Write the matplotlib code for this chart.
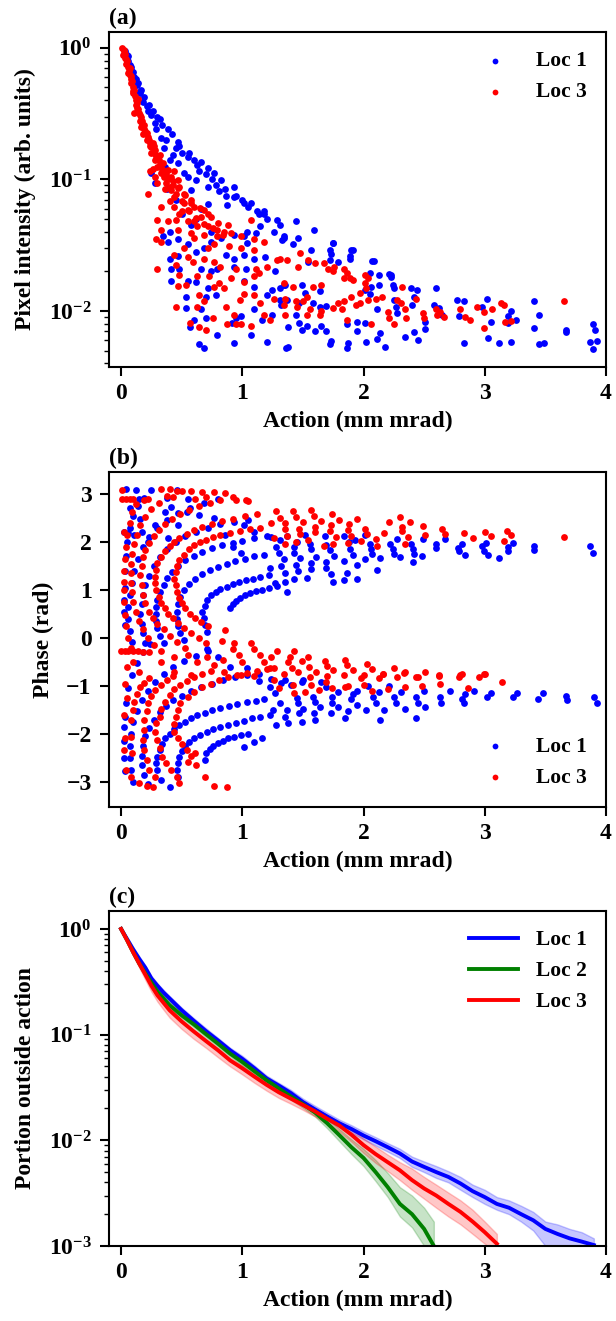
import matplotlib
matplotlib.use('Agg')
import matplotlib.pyplot as plt

plt.rcParams['font.family'] = ['Liberation Serif', 'DejaVu Serif']
plt.rcParams['font.weight'] = 'bold'
plt.rcParams['axes.labelweight'] = 'bold'
plt.rcParams['mathtext.fontset'] = 'custom'
plt.rcParams['mathtext.rm'] = 'Liberation Serif:bold'
plt.rcParams['mathtext.it'] = 'Liberation Serif:italic:bold'
plt.rcParams['mathtext.bf'] = 'Liberation Serif:bold'

# ---------------- Panel (a): pixel intensity vs action ----------------
a_loc1 = [
    (0.03,0.94),(0.057,0.86),(0.071,0.74),(0.085,0.68),(0.11,0.60),(0.14,0.54),(0.153,0.45),(0.167,0.48),
    (0.18,0.39),(0.21,0.36),(0.22,0.33),(0.25,0.31),(0.317,0.29),(0.276,0.27),(0.29,0.24),(0.385,0.24),
    (0.33,0.206),(0.37,0.20),(0.467,0.194),(0.358,0.173),(0.454,0.173),(0.426,0.153),(0.55,0.149),
    (0.63,0.129),(0.467,0.133),(0.713,0.122),(0.768,0.111),(0.645,0.115),(0.52,0.111),(0.55,0.105),
    (0.822,0.099),(0.617,0.099),(0.713,0.088),(0.93,0.088),(0.276,0.094),(0.576,0.083),(0.81,0.081),
    (0.863,0.075),(0.93,0.074),(1.01,0.066),(1.07,0.066),(0.877,0.064),(1.18,0.055),(1.29,0.049),
    (1.31,0.045),(1.15,0.044),(1.04,0.040),(1.11,0.039),(1.26,0.040),(1.34,0.037),(1.01,0.037),
    (0.93,0.038),(0.822,0.036),(0.74,0.040),(0.25,0.111),(0.36,0.125),(0.40,0.14),(0.50,0.16),
    (0.045,0.88),(0.06,0.80),(0.08,0.72),(0.10,0.66),(0.12,0.58),(0.13,0.52),(0.15,0.46),(0.19,0.42),
    (0.23,0.37),(0.26,0.33),(0.30,0.30),(0.34,0.26),(0.42,0.22),(0.48,0.18),(0.56,0.16),(0.60,0.14),
    (0.66,0.135),(0.70,0.11),(0.75,0.10),(0.78,0.09),(0.86,0.085),(0.95,0.075),(1.00,0.070),(1.05,0.062),
    (1.12,0.058),(1.20,0.050),(0.38,0.085),(0.45,0.070),(0.50,0.055),(0.58,0.045),(0.62,0.050),(0.66,0.060),
    (0.72,0.065),(0.40,0.040),(0.47,0.035),(0.55,0.032),(0.62,0.028),(0.68,0.030),
    (1.14,0.055),(1.18,0.057),(1.44,0.048),(1.59,0.041),(1.75,0.033),(1.73,0.027),(1.91,0.029),
    (1.89,0.026),(2.07,0.024),(2.21,0.019),(2.23,0.018),
    (0.40,0.025),(0.467,0.026),(0.41,0.021),(0.48,0.021),(0.41,0.017),(0.55,0.017),(0.617,0.0167),
    (0.66,0.021),(0.713,0.0149),(0.74,0.020),(0.795,0.021),(0.78,0.0132),(0.70,0.0128),(0.535,0.0128),
    (0.535,0.0105),(0.66,0.0103),(0.60,0.0085),(0.565,0.0076),(0.70,0.0089),(0.795,0.0066),
    (0.645,0.0056),(0.68,0.0052),(0.93,0.0057),(0.945,0.0088),(0.986,0.0091),(0.918,0.0081),
    (1.07,0.0066),(1.16,0.0085),(1.20,0.0058),(1.096,0.0103),(1.246,0.0093),(1.31,0.0121),
    (1.31,0.0149),(1.355,0.0157),(1.246,0.0145),(1.096,0.0153),(1.01,0.017),(1.03,0.021),
    (0.93,0.0217),(0.863,0.0267),(0.93,0.025),(1.04,0.0327),(1.19,0.0258),(1.33,0.0348),(1.27,0.020),
    (1.01,0.0267),(1.096,0.025),(1.36,0.0052),(1.20,0.0132),(0.344,0.037),(0.385,0.0337),(0.74,0.0337),
    (1.34,0.036),(1.42,0.032),(1.46,0.036),(1.57,0.029),(1.54,0.0237),(1.72,0.029),(1.75,0.0327),
    (1.72,0.0245),(1.79,0.0237),(1.90,0.029),(1.89,0.025),(2.09,0.024),(2.05,0.0195),(2.13,0.0188),
    (2.23,0.0188),(2.24,0.0157),(2.13,0.0157),(2.06,0.0152),(2.01,0.0145),(2.25,0.0149),(2.39,0.0150),
    (2.44,0.0145),(2.42,0.0128),(2.60,0.0149),(2.58,0.0111),(2.62,0.0105),(2.65,0.0093),(2.77,0.0121),
    (2.83,0.0118),(2.79,0.0091),(3.02,0.0124),(2.98,0.0108),(3.05,0.0083),(3.19,0.0092),(3.22,0.0100),
    (3.26,0.0086),(3.19,0.0081),(3.41,0.0118),(3.45,0.0093),(3.41,0.0074),(3.67,0.0072),(3.67,0.0069),
    (3.89,0.0080),(3.91,0.0072),(3.87,0.0058),(3.93,0.0059),(3.89,0.0051),(3.45,0.0056),(3.49,0.0057),
    (3.22,0.0058),(3.12,0.0057),(3.03,0.0062),(2.83,0.0057),(2.51,0.0073),(2.42,0.0069),(2.45,0.0060),
    (2.34,0.0063),(2.51,0.0082),(2.14,0.0068),(2.11,0.0061),(2.18,0.0053),(2.02,0.0058),(1.86,0.0052),
    (1.87,0.0057),(1.73,0.0059),(1.72,0.0056),(1.69,0.0070),(1.60,0.0071),(1.65,0.0077),(1.53,0.0077),
    (1.49,0.0072),(1.47,0.0081),(1.38,0.0053),(1.38,0.0076),(1.37,0.0121),(1.44,0.0093),(1.58,0.0115),
    (1.64,0.0108),(1.69,0.0109),(1.86,0.0080),(1.95,0.0071),(2.01,0.0081),(1.95,0.0083),(2.27,0.0108),
    (2.28,0.0097),(2.40,0.0111),(2.25,0.0121),(2.11,0.0103),(2.05,0.0135),(1.34,0.0157),(1.49,0.0157),
    (1.52,0.0136),(1.64,0.0143),(1.32,0.0111),(1.47,0.0115),
]
a_loc3 = [
    (0.01,1.0),(0.025,0.94),(0.016,0.885),(0.03,0.83),(0.044,0.76),(0.071,0.70),(0.057,0.64),(0.085,0.61),
    (0.085,0.54),(0.11,0.48),(0.098,0.45),(0.14,0.41),(0.126,0.37),(0.14,0.34),(0.11,0.32),(0.167,0.30),
    (0.153,0.28),(0.167,0.25),(0.19,0.24),(0.18,0.22),(0.22,0.21),(0.21,0.20),(0.26,0.19),(0.235,0.178),
    (0.276,0.167),(0.25,0.158),(0.317,0.153),(0.276,0.141),(0.345,0.133),(0.30,0.125),(0.385,0.118),
    (0.235,0.115),(0.44,0.115),(0.33,0.111),(0.358,0.105),(0.41,0.105),(0.467,0.099),(0.30,0.094),
    (0.37,0.094),(0.426,0.091),(0.48,0.088),(0.41,0.083),(0.52,0.078),(0.22,0.078),(0.44,0.074),
    (0.576,0.070),(0.52,0.066),(0.33,0.062),(0.44,0.062),(0.60,0.062),(0.55,0.059),(0.686,0.059),
    (0.48,0.055),(0.74,0.052),(0.66,0.052),(0.385,0.048),(0.55,0.048),(0.60,0.048),(0.454,0.049),
    (0.30,0.049),(0.63,0.044),(0.713,0.044),(0.795,0.041),(0.85,0.040),(0.33,0.041),(0.467,0.041),
    (0.576,0.039),(0.686,0.038),(0.795,0.037),(0.904,0.039),(1.07,0.049),(0.986,0.037),(1.096,0.035),
    (0.02,0.97),(0.035,0.90),(0.04,0.82),(0.05,0.79),(0.06,0.72),(0.065,0.67),(0.075,0.62),(0.08,0.58),
    (0.09,0.56),(0.095,0.50),(0.10,0.47),(0.115,0.43),(0.12,0.40),(0.13,0.38),(0.135,0.35),(0.15,0.32),
    (0.16,0.31),(0.17,0.28),(0.175,0.265),(0.19,0.26),(0.20,0.235),(0.21,0.225),(0.23,0.20),(0.24,0.19),
    (0.25,0.175),(0.27,0.18),(0.28,0.155),(0.29,0.145),(0.31,0.14),(0.32,0.13),(0.34,0.12),(0.35,0.115),
    (0.37,0.11),(0.39,0.10),(0.40,0.088),(0.43,0.097),(0.45,0.078),(0.47,0.086),(0.50,0.069),(0.53,0.076),
    (0.56,0.058),(0.58,0.066),(0.62,0.051),(0.65,0.061),(0.68,0.046),(0.72,0.055),(0.76,0.043),(0.80,0.047),
    (0.84,0.038),(0.88,0.045),(0.26,0.12),(0.28,0.105),(0.36,0.085),(0.40,0.068),(0.50,0.058),
    (0.30,0.021),(0.29,0.035),(0.33,0.0337),(0.454,0.0224),(0.48,0.0188),(0.454,0.0108),(0.565,0.0081),
    (0.645,0.0075),(0.70,0.0072),(0.63,0.0108),(0.686,0.0118),(0.755,0.0088),(0.863,0.0108),
    (0.877,0.0080),(0.945,0.0079),(0.99,0.0079),(1.07,0.0077),(1.18,0.0093),(1.23,0.0085),(0.93,0.0093),
    (1.096,0.0132),(1.15,0.0115),(1.26,0.0124),(1.34,0.0111),(1.01,0.0135),(0.98,0.0121),(0.85,0.0149),
    (0.77,0.0152),(0.645,0.0132),(0.467,0.0155),(0.535,0.0157),(0.63,0.0183),(0.727,0.0183),(0.81,0.0162),
    (0.904,0.0177),(1.01,0.0167),(1.096,0.0183),(1.14,0.0193),(1.20,0.0217),(1.29,0.0242),(0.59,0.0237),
    (0.686,0.025),(0.77,0.0237),(0.82,0.0217),(0.89,0.031),(0.986,0.030),(1.096,0.0293),(1.18,0.0337),
    (0.713,0.030),(0.52,0.030),(0.55,0.0258),(0.44,0.0267),(0.945,0.021),(1.11,0.021),(0.60,0.036),
    (0.77,0.032),
    (1.31,0.0250),(1.37,0.0245),(1.46,0.0217),(1.54,0.0245),(1.60,0.0230),(1.48,0.0275),(1.67,0.0230),
    (1.71,0.021),(1.75,0.0200),(1.76,0.0214),(1.84,0.021),(1.86,0.0195),(1.89,0.0177),(1.84,0.0177),
    (1.91,0.0171),(2.01,0.0188),(2.04,0.0177),(2.01,0.0162),(2.02,0.0149),(2.10,0.0124),(2.04,0.0121),
    (1.97,0.0138),(1.90,0.0128),(1.84,0.0118),(1.75,0.0105),(1.82,0.0103),(1.79,0.0115),(1.65,0.0157),
    (1.58,0.0152),(1.53,0.0128),(1.50,0.0118),(1.56,0.0103),(1.53,0.0093),(1.65,0.0100),(1.64,0.0093),
    (1.34,0.0162),(1.42,0.0152),(1.35,0.0124),(1.44,0.0118),(1.45,0.0108),(1.35,0.0093),(1.97,0.0115),
    (1.86,0.0085),(1.94,0.0111),(2.06,0.0080),(2.15,0.0128),(2.20,0.0098),(2.21,0.0088),(2.25,0.0080),
    (2.28,0.0121),(2.31,0.0115),(2.32,0.0152),(2.34,0.0103),(2.35,0.0088),(2.43,0.0124),(2.49,0.0097),
    (2.50,0.0088),(2.60,0.0103),(2.61,0.0093),(2.63,0.0098),(2.66,0.0090),(2.80,0.0104),(2.84,0.0090),
    (2.88,0.0085),(2.94,0.0107),(2.99,0.0098),(2.99,0.0074),(3.06,0.0104),(3.13,0.0115),(3.16,0.0111),
    (3.17,0.0083),(3.22,0.0084),(3.65,0.0120),
]

# ---------------- Panel (b): phase vs action ----------------
b_loc1 = [
    (0.90,0.62),(0.92,0.70),(0.95,0.77),(0.98,0.84),(1.02,0.90),(1.06,0.94),(1.11,0.98),(1.16,1.01),(1.22,1.05),(1.29,1.09),(1.37,0.97),
    (0.71,0.13),(0.69,0.27),(0.68,0.41),(0.67,0.55),(0.69,0.67),(0.71,0.79),(0.74,0.90),(0.78,0.97),(0.82,1.02),(0.87,1.07),(0.92,1.12),(0.97,1.17),(1.03,1.21),(1.09,1.24),(1.15,1.28),(1.22,1.31),
    (0.52,-0.05),(0.49,0.10),(0.47,0.25),(0.46,0.40),(0.46,0.55),(0.47,0.70),(0.49,0.85),(0.52,1.00),(0.56,1.12),(0.61,1.23),(0.67,1.33),(0.73,1.41),(0.80,1.48),(0.87,1.54),(0.94,1.60),(1.02,1.65),(1.10,1.70),(1.18,1.74),
    (0.35,-0.10),(0.32,0.05),(0.30,0.20),(0.29,0.35),(0.29,0.50),(0.29,0.65),(0.30,0.80),(0.32,0.95),(0.35,1.10),(0.38,1.25),(0.42,1.38),(0.47,1.50),(0.53,1.62),(0.60,1.72),(0.67,1.80),(0.75,1.87),(0.83,1.93),(0.92,1.98),(1.00,2.03),(1.10,2.08),(1.20,2.12),
    (0.20,-0.10),(0.18,0.10),(0.17,0.30),(0.16,0.50),(0.17,0.70),(0.18,0.90),(0.20,1.10),(0.23,1.30),(0.27,1.50),(0.32,1.68),(0.38,1.85),(0.45,2.00),(0.53,2.12),(0.62,2.22),(0.72,2.30),(0.82,2.37),(0.93,2.42),(1.05,2.47),
    (0.09,-0.08),(0.07,0.15),(0.06,0.40),(0.06,0.65),(0.07,0.90),(0.09,1.15),(0.11,1.40),(0.14,1.65),(0.18,1.90),(0.23,2.10),(0.30,2.30),(0.38,2.47),(0.47,2.60),(0.57,2.72),(0.68,2.82),(0.80,2.90),
    (0.03,0.28),(0.02,0.55),(0.02,0.80),(0.03,1.05),(0.03,1.40),(0.04,1.70),(0.05,2.00),(0.07,2.30),(0.10,2.55),(0.14,2.75),(0.19,2.92),(0.25,3.08),
    (0.04,3.10),(0.12,3.08),(0.46,3.08),(0.15,2.90),(0.38,2.91),(0.55,2.90),(0.07,2.70),(0.16,2.49),(0.36,2.63),(0.41,2.74),(0.54,2.63),(0.64,2.56),(0.77,2.51),
    (0.02,2.20),(0.06,2.18),(0.11,2.15),(0.17,2.22),(0.28,2.35),(0.47,2.35),(0.86,2.15),(1.01,2.35),(1.10,2.22),(0.22,2.01),(0.39,2.08),(0.92,1.90),(0.99,1.78),
    (0.69,-2.54),(0.70,-2.40),(0.73,-2.32),(0.76,-2.25),(0.80,-2.19),(0.84,-2.14),(0.88,-2.09),(0.93,-2.06),(0.99,-2.02),(1.01,-2.26),(1.10,-2.16),(1.16,-2.09),(1.05,-1.99),
    (0.47,-2.89),(0.46,-2.75),(0.47,-2.61),(0.48,-2.47),(0.50,-2.35),(0.53,-2.25),(0.56,-2.16),(0.60,-2.09),(0.65,-2.02),(0.71,-1.95),(0.76,-1.90),(0.82,-1.85),(0.88,-1.81),(0.95,-1.76),(1.01,-1.72),(1.08,-1.67),(1.15,-1.64),(1.23,-1.60),
    (0.40,-3.10),(0.33,-2.95),(0.30,-2.75),(0.29,-2.61),(0.30,-2.47),(0.32,-2.33),(0.34,-2.21),(0.36,-2.09),(0.40,-1.99),(0.44,-1.90),(0.48,-1.81),(0.53,-1.74),(0.58,-1.67),(0.63,-1.60),(0.69,-1.56),(0.75,-1.50),(0.82,-1.45),(0.89,-1.42),(0.96,-1.37),(1.04,-1.34),(1.11,-1.31),(1.18,-1.28),
    (0.22,-3.05),(0.19,-2.85),(0.17,-2.65),(0.17,-2.45),(0.18,-2.25),(0.20,-2.05),(0.23,-1.87),(0.27,-1.70),(0.32,-1.55),(0.37,-1.42),(0.43,-1.30),(0.50,-1.20),(0.58,-1.10),(0.66,-1.02),(0.75,-0.95),(0.84,-0.88),(0.94,-0.82),(1.04,-0.78),(1.14,-0.74),
    (0.10,-3.00),(0.08,-2.75),(0.07,-2.50),(0.07,-2.25),(0.08,-2.00),(0.10,-1.75),(0.13,-1.52),(0.17,-1.30),(0.22,-1.10),(0.28,-0.92),(0.35,-0.75),(0.43,-0.60),(0.52,-0.48),(0.62,-0.37),(0.72,-0.28),
    (0.03,-2.78),(0.02,-2.50),(0.02,-2.15),(0.02,-1.85),(0.03,-1.65),(0.04,-1.35),(0.06,-1.05),(0.09,-0.78),(0.13,-0.52),(0.18,-0.30),(0.24,-0.12),
    (0.80,-0.39),(1.04,-0.63),(0.71,-0.22),(0.90,-0.60),(1.14,-0.90),
    (1.24,2.11),(1.31,2.04),(1.28,1.90),(1.30,1.78),(1.34,1.65),(1.32,1.51),(1.35,1.36),(1.27,1.14),(1.35,1.17),
    (1.37,2.13),(1.45,2.00),(1.43,1.90),(1.43,1.78),(1.48,1.67),(1.44,1.53),(1.46,1.40),(1.43,1.23),(1.53,1.26),
    (1.52,2.15),(1.56,1.97),(1.57,1.85),(1.61,1.69),(1.57,1.57),(1.57,1.43),(1.68,2.13),(1.69,1.94),(1.72,1.83),
    (1.76,1.72),(1.69,1.58),(1.69,1.47),(1.73,1.33),(1.75,1.17),(1.84,2.13),(1.88,2.00),(1.89,1.85),(1.91,1.73),
    (1.84,1.61),(1.86,1.36),(1.84,1.21),(1.93,2.04),(2.05,1.95),(2.06,1.85),(2.07,1.75),(2.01,1.65),(1.95,1.52),
    (1.95,1.24),(2.11,1.42),(2.01,2.15),(2.14,1.66),(2.22,1.96),(2.24,1.85),(2.25,1.76),(2.28,2.06),(2.30,1.68),
    (2.39,1.95),(2.41,1.85),(2.42,1.76),(2.41,1.59),(2.49,2.06),(2.48,1.70),(2.60,1.95),(2.60,1.87),(2.67,2.06),
    (2.81,1.97),(2.78,1.87),(2.79,1.81),(2.84,1.73),(2.98,1.92),(2.99,1.81),(3.01,1.99),(3.03,1.74),(3.12,1.66),
    (3.19,1.90),(3.19,1.81),(3.23,1.99),(3.41,1.92),(3.41,1.83),(3.87,1.92),(3.89,1.78),(1.23,1.45),
    (1.24,-0.86),(1.32,-0.94),(1.35,-0.87),(1.50,-0.87),
    (1.23,-1.03),(1.27,-1.15),(1.25,-1.50),(1.28,-1.81),(1.35,-1.64),(1.37,-1.49),(1.38,-1.76),(1.31,-1.36),
    (1.40,-0.98),(1.45,-1.24),(1.46,-1.36),(1.47,-1.57),(1.49,-1.74),(1.50,-1.47),(1.49,-0.91),(1.58,-1.22),
    (1.60,-1.33),(1.59,-1.57),(1.60,-1.71),(1.65,-0.91),(1.64,-1.44),(1.69,-1.01),(1.74,-1.22),(1.74,-1.36),
    (1.73,-1.56),(1.79,-1.12),(1.79,-1.43),(1.85,-1.66),(1.87,-1.53),(1.90,-1.28),(1.91,-1.17),(1.95,-1.40),
    (1.95,-1.10),(2.02,-1.50),(2.04,-1.00),(2.08,-1.22),(2.10,-1.36),(2.13,-1.12),(2.14,-1.71),(2.17,-1.49),
    (2.21,-1.00),(2.25,-1.22),(2.27,-1.36),(2.31,-1.12),(2.34,-1.47),(2.43,-1.66),(2.43,-1.22),(2.45,-1.36),
    (2.50,-1.10),(2.51,-1.44),(2.63,-1.22),(2.64,-1.36),(2.71,-1.10),(2.81,-1.26),(2.83,-1.36),(2.84,-1.17),
    (2.91,-1.10),(3.02,-1.22),(3.05,-1.15),(3.23,-1.22),(3.27,-1.15),(3.44,-1.26),(3.48,-1.15),(3.67,-1.21),
    (3.68,-1.29),(3.90,-1.22),(3.93,-1.35),
]
b_loc3 = [
    (0.72,0.25),(0.66,0.33),(0.61,0.42),(0.57,0.51),(0.53,0.62),(0.50,0.72),(0.48,0.84),(0.46,0.97),(0.45,1.10),(0.44,1.24),(0.45,1.38),(0.46,1.51),(0.48,1.63),(0.52,1.74),(0.56,1.85),(0.60,1.93),(0.65,2.00),(0.70,2.05),(0.76,2.10),(0.82,2.14),(0.90,2.19),(0.98,2.23),(1.06,2.27),(1.15,2.30),
    (0.70,-0.10),(0.64,0.00),(0.58,0.10),(0.52,0.21),(0.47,0.31),(0.43,0.41),(0.39,0.51),(0.36,0.62),(0.33,0.72),(0.31,0.86),(0.29,1.00),(0.28,1.14),(0.28,1.28),(0.29,1.42),(0.30,1.56),(0.33,1.69),(0.36,1.81),(0.40,1.92),(0.44,2.01),(0.48,2.09),(0.54,2.17),(0.60,2.25),(0.67,2.32),(0.75,2.38),(0.83,2.44),(0.92,2.49),(1.02,2.54),(1.12,2.58),
    (0.53,-0.20),(0.46,-0.08),(0.40,0.05),(0.35,0.18),(0.30,0.30),(0.26,0.41),(0.23,0.55),(0.20,0.72),(0.18,0.90),(0.17,1.10),(0.16,1.31),(0.17,1.50),(0.18,1.68),(0.20,1.84),(0.23,1.98),(0.27,2.12),(0.31,2.25),(0.36,2.37),(0.42,2.48),(0.49,2.58),(0.56,2.67),(0.64,2.75),(0.73,2.82),(0.82,2.88),(0.92,2.93),(1.03,2.88),
    (0.33,-0.28),(0.27,-0.15),(0.22,0.00),(0.18,0.18),(0.15,0.35),(0.12,0.55),(0.10,0.75),(0.09,0.95),(0.08,1.15),(0.08,1.35),(0.08,1.55),(0.09,1.75),(0.11,1.95),(0.13,2.15),(0.16,2.35),(0.20,2.52),(0.25,2.68),(0.31,2.82),(0.38,2.95),(0.46,3.06),
    (0.08,-0.20),(0.06,0.00),(0.04,0.25),(0.03,0.47),(0.02,0.75),(0.02,1.00),(0.02,1.17),(0.02,1.40),(0.03,1.65),(0.04,1.90),(0.05,2.15),(0.07,2.40),(0.09,2.62),(0.12,2.80),
    (0.01,3.08),(0.01,2.90),(0.04,2.90),(0.07,2.90),(0.10,2.90),(0.19,2.87),(0.22,2.90),(0.33,3.10),(0.40,3.10),(0.50,3.07),(0.58,3.06),(0.67,3.05),(0.77,3.04),(0.86,3.02),(0.95,2.88),(1.05,2.85),(0.70,2.93),(0.61,2.90),(0.43,2.93),(0.02,2.20),
    (0.02,-1.60),(0.03,-2.09),(0.02,-2.33),(0.04,-2.75),(0.08,-2.89),(0.15,-3.03),(0.21,-3.08),(0.26,-3.11),
    (0.08,-1.71),(0.10,-1.50),(0.11,-1.33),(0.13,-1.17),(0.16,-1.03),(0.19,-0.93),(0.23,-0.84),(0.08,-2.06),(0.09,-2.40),
    (0.18,-2.13),(0.19,-2.33),(0.21,-2.54),(0.23,-2.75),(0.28,-2.90),(0.19,-1.92),(0.19,-1.71),(0.21,-1.53),(0.22,-1.36),(0.25,-1.21),(0.28,-1.08),(0.33,-0.98),(0.38,-0.87),(0.43,-0.79),
    (0.32,-1.64),(0.29,-1.78),(0.28,-1.95),(0.30,-2.13),(0.32,-2.30),(0.34,-2.47),(0.37,-2.61),(0.41,-2.75),(0.46,-2.89),(0.48,-3.01),(0.33,-1.47),(0.36,-1.33),(0.40,-1.19),(0.44,-1.07),(0.49,-0.98),(0.54,-0.89),(0.60,-0.81),(0.67,-0.74),(0.74,-0.68),
    (0.49,-1.36),(0.47,-1.50),(0.45,-1.64),(0.44,-1.80),(0.44,-1.95),(0.47,-2.09),(0.50,-2.21),(0.54,-2.33),(0.58,-2.45),(0.62,-2.65),(0.69,-2.89),(0.77,-3.08),(0.87,-3.11),(0.55,-1.23),(0.60,-1.12),(0.67,-1.03),(0.74,-0.95),(0.81,-0.88),(0.88,-0.82),(0.96,-0.76),(1.04,-0.72),(1.12,-0.68),(1.20,-0.64),
    (0.61,-2.39),(0.55,-2.58),
    (0.00,-0.28),(0.03,-0.28),(0.06,-0.28),(0.10,-0.28),(0.14,-0.28),(0.18,-0.29),(0.23,-0.30),
    (0.10,-0.49),(0.15,-0.70),(0.33,-0.49),(0.44,-0.39),(0.55,-0.35),(0.63,-0.49),(0.71,-0.39),(0.77,-0.56),(0.84,-0.46),(0.86,0.17),(0.92,-0.22),(0.97,-0.35),(1.00,-0.49),(1.10,-0.22),(1.15,-0.35),(1.18,-0.49),(1.23,-0.63),(0.85,-0.70),(0.99,-0.77),(1.10,-0.80),(0.58,-0.77),(0.44,-0.70),(0.83,-0.07),(0.93,-0.10),(1.07,-0.10),(0.05,-0.60),(0.03,-0.95),(0.05,-1.25),
    (1.28,2.65),(1.31,2.51),(1.24,2.39),(1.35,2.39),(1.35,2.27),(1.42,2.65),(1.44,2.53),(1.50,2.42),(1.47,2.28),(1.48,2.16),
    (1.57,2.66),(1.59,2.55),(1.65,2.44),(1.60,2.32),(1.60,2.20),(1.54,2.04),(1.74,2.58),(1.80,2.47),(1.73,2.35),(1.72,2.23),
    (1.77,2.10),(1.75,1.95),(1.67,1.92),(1.95,2.48),(1.88,2.37),(1.87,2.25),(1.90,2.13),(1.87,1.99),(1.37,2.13),(1.26,2.09),
    (1.35,1.95),(1.44,2.00),(2.01,2.28),(2.03,2.16),(1.98,2.02),(2.10,2.06),(2.11,1.92),(2.17,2.19),(2.21,2.41),(2.30,2.52),
    (2.38,2.42),(2.32,2.32),(2.32,2.23),(2.37,2.11),(2.34,1.97),(2.49,2.34),(2.51,2.15),(2.65,2.27),(2.67,2.17),(2.83,2.19),
    (2.90,2.09),(3.00,2.22),(3.05,2.13),(3.18,2.24),(3.22,2.15),(3.16,2.03),(3.65,2.10),
    (1.29,-0.26),(1.24,-0.39),(1.43,-0.26),(1.39,-0.39),(1.26,-0.63),(1.38,-0.49),(1.49,-0.47),(1.54,-0.39),(1.41,-0.62),
    (1.55,-0.60),(1.68,-0.47),(1.70,-0.58),(1.61,-0.70),(1.75,-0.67),(1.85,-0.46),(1.86,-0.56),(1.91,-0.67),(2.03,-0.55),
    (2.07,-0.65),(2.00,-0.77),(2.25,-0.62),(2.16,-0.74),(2.33,-0.72),(2.51,-0.70),(2.43,-0.81),(2.62,-0.77),(2.80,-0.77),
    (2.99,-0.74),(1.34,-0.74),(1.46,-0.70),(1.56,-0.82),(1.70,-0.79),(1.84,-0.77),(1.85,-1.01),(1.98,-0.84),(2.00,-0.98),
    (2.13,-0.84),(2.16,-0.75),(2.28,-0.82),(2.34,-0.70),(2.34,-1.03),(2.45,-0.81),(2.48,-1.00),(2.62,-0.79),(2.63,-0.96),
    (2.79,-0.82),(2.81,-0.75),(2.86,-1.05),(2.95,-0.82),(3.00,-0.75),(3.14,-0.91),(1.26,-0.87),(1.30,-1.05),(1.42,-0.98),
    (1.43,-1.15),(1.52,-1.12),(1.57,-0.98),(1.63,-1.08),(1.69,-0.91),(1.74,-1.05),(1.87,-1.00),(2.07,-1.10),(2.20,-1.07),
]

# ---------------- Panel (c): portion outside action ----------------
c_x_loc1 = [0.0,0.05,0.1,0.15,0.2,0.25,0.3,0.35,0.4,0.5,0.6,0.7,0.8,0.9,1.0,1.1,1.2,1.3,1.4,1.5,1.6,1.7,1.8,1.9,
            2.0,2.1,2.2,2.3,2.4,2.5,2.6,2.7,2.8,2.9,3.0,3.1,3.2,3.3,3.4,3.5,3.6,3.7,3.8,3.9]
c_loc1 = [1.0,0.80,0.64,0.52,0.43,0.34,0.29,0.25,0.22,0.17,0.135,0.108,0.088,0.071,0.059,0.048,0.0385,0.033,0.028,
          0.023,0.0196,0.0168,0.0145,0.0128,0.0111,0.0098,0.0086,0.0075,0.0063,0.0056,0.0050,0.0045,0.0039,0.0033,
          0.0029,0.0025,0.0023,0.0020,0.00175,0.00145,0.0013,0.00118,0.0011,0.00102]
c_loc1_lo = [1.0,0.77,0.61,0.49,0.41,0.32,0.275,0.235,0.207,0.16,0.127,0.101,0.083,0.067,0.055,0.045,0.036,0.031,0.026,
             0.0213,0.018,0.0155,0.0133,0.0118,0.0102,0.0089,0.0078,0.0068,0.0056,0.0050,0.0044,0.0040,0.0034,0.0029,
             0.0025,0.0022,0.0020,0.0017,0.0014,0.0010,0.00098,0.0009,0.00085,0.0008]
c_loc1_hi = [1.0,0.83,0.67,0.55,0.45,0.36,0.305,0.265,0.232,0.18,0.143,0.115,0.093,0.075,0.063,0.051,0.041,0.035,0.030,
             0.0248,0.0212,0.0182,0.0157,0.0139,0.0121,0.0107,0.0094,0.0083,0.0070,0.0063,0.0057,0.0051,0.0045,0.0038,
             0.0034,0.0029,0.0027,0.0024,0.0021,0.0017,0.0016,0.00145,0.00135,0.00118]

c_x_loc2 = [0.0,0.05,0.1,0.15,0.2,0.25,0.3,0.35,0.4,0.5,0.6,0.7,0.8,0.9,1.0,1.1,1.2,1.3,1.4,1.5,1.6,1.7,1.8,1.9,
            2.0,2.1,2.2,2.3,2.4,2.5,2.58]
c_loc2 = [1.0,0.78,0.60,0.47,0.38,0.31,0.255,0.22,0.19,0.152,0.125,0.101,0.082,0.066,0.055,0.045,0.037,0.031,0.026,
          0.022,0.0183,0.0145,0.0112,0.0086,0.0068,0.0050,0.0036,0.0025,0.0020,0.00145,0.00100]
c_loc2_lo = [1.0,0.75,0.57,0.445,0.36,0.29,0.24,0.207,0.178,0.143,0.117,0.094,0.077,0.062,0.051,0.042,0.0345,0.029,
             0.0243,0.0203,0.0168,0.0130,0.0098,0.0074,0.0057,0.0041,0.0029,0.0019,0.0015,0.0010,0.0007]
c_loc2_hi = [1.0,0.81,0.63,0.50,0.405,0.335,0.275,0.237,0.205,0.163,0.134,0.109,0.088,0.071,0.059,0.048,0.040,0.033,
             0.028,0.0238,0.0200,0.0162,0.0128,0.0102,0.0083,0.0065,0.0049,0.0036,0.0030,0.0023,0.0017]

c_x_loc3 = [0.0,0.05,0.1,0.15,0.2,0.25,0.3,0.35,0.4,0.5,0.6,0.7,0.8,0.9,1.0,1.1,1.2,1.3,1.4,1.5,1.6,1.7,1.8,1.9,
            2.0,2.1,2.2,2.3,2.4,2.5,2.6,2.7,2.8,2.9,3.0,3.1]
c_loc3 = [1.0,0.78,0.60,0.47,0.37,0.29,0.235,0.20,0.17,0.133,0.107,0.087,0.071,0.057,0.048,0.040,0.0335,0.0285,0.0248,
          0.0216,0.0188,0.0160,0.0138,0.0113,0.0090,0.0074,0.0062,0.0052,0.0042,0.0035,0.0030,0.0025,0.0021,0.0017,
          0.00135,0.00105]
c_loc3_lo = [1.0,0.75,0.56,0.43,0.33,0.255,0.205,0.172,0.145,0.113,0.091,0.075,0.061,0.050,0.042,0.035,0.0295,0.0252,
             0.0222,0.0194,0.0168,0.0143,0.0121,0.0097,0.0076,0.0061,0.0051,0.0042,0.0034,0.0028,0.0023,0.0019,0.0016,
             0.0013,0.00105,0.00085]
c_loc3_hi = [1.0,0.80,0.62,0.49,0.385,0.30,0.245,0.21,0.178,0.139,0.112,0.091,0.075,0.060,0.051,0.042,0.0352,0.0300,
             0.0262,0.0229,0.0200,0.0172,0.0150,0.0128,0.0104,0.0087,0.0073,0.0062,0.0054,0.0045,0.0038,0.0032,0.0027,
             0.0022,0.0017,0.0013]

BLUE, RED, GREEN = '#0000ff', '#ff0000', '#008000'
FS = 17

fig = plt.figure(figsize=(6.16, 13.21), dpi=100)
left, width, height = 0.1769, 0.8068, 0.2536
ax_a = fig.add_axes([left, 0.7222, width, height])
ax_b = fig.add_axes([left, 0.3891, width, height])
ax_c = fig.add_axes([left, 0.0568, width, height])

def style(ax):
    for s in ax.spines.values():
        s.set_linewidth(1.5)
    ax.tick_params(axis='both', which='major', direction='out', length=6.5, width=1.5, labelsize=FS)
    ax.tick_params(axis='y', which='major', pad=6)
    ax.tick_params(axis='x', which='major', pad=5)
    ax.tick_params(axis='both', which='minor', direction='out', length=3.5, width=1.0)
    ax.set_xlim(-0.1, 4.0)
    ax.set_xticks([0, 1, 2, 3, 4])
    ax.set_xlabel('Action (mm mrad)', fontsize=FS, fontweight='bold', labelpad=5)

# (a)
x1, y1 = zip(*a_loc1)
x3, y3 = zip(*a_loc3)
ax_a.scatter(x1, y1, s=24, c=BLUE, linewidths=0, label='Loc 1', zorder=2)
ax_a.scatter(x3, y3, s=24, c=RED, linewidths=0, label='Loc 3', zorder=3)
ax_a.set_yscale('log')
ax_a.set_ylim(0.00375, 1.32)
style(ax_a)
ax_a.set_ylabel('Pixel intensity (arb. units)', fontsize=FS, fontweight='bold', labelpad=9)
ax_a.legend(loc='upper right', frameon=False, fontsize=15.5, handletextpad=0.9, markerscale=0.85)
ax_a.text(0.0, 1.01, '(a)', transform=ax_a.transAxes, fontsize=FS, fontweight='bold', ha='left', va='bottom')

# (b)
x1, p1 = zip(*b_loc1)
x3, p3 = zip(*b_loc3)
ax_b.scatter(x1, p1, s=24, c=BLUE, linewidths=0, label='Loc 1', zorder=2)
ax_b.scatter(x3, p3, s=24, c=RED, linewidths=0, label='Loc 3', zorder=3)
ax_b.set_ylim(-3.52, 3.46)
ax_b.set_yticks([-3, -2, -1, 0, 1, 2, 3])
style(ax_b)
ax_b.set_ylabel('Phase (rad)', fontsize=FS, fontweight='bold', labelpad=9)
ax_b.legend(loc='lower right', frameon=False, fontsize=15.5, handletextpad=0.9, markerscale=0.85)
ax_b.text(0.0, 1.01, '(b)', transform=ax_b.transAxes, fontsize=FS, fontweight='bold', ha='left', va='bottom')

# (c)
for xs, ys, lo, hi, col, lab in [
        (c_x_loc1, c_loc1, c_loc1_lo, c_loc1_hi, BLUE, 'Loc 1'),
        (c_x_loc2, c_loc2, c_loc2_lo, c_loc2_hi, GREEN, 'Loc 2'),
        (c_x_loc3, c_loc3, c_loc3_lo, c_loc3_hi, RED, 'Loc 3')]:
    ax_c.fill_between(xs, lo, hi, color=col, alpha=0.22, linewidth=1.0, edgecolor=col)
    ax_c.plot(xs, ys, color=col, linewidth=2.8, label=lab)
ax_c.set_yscale('log')
ax_c.set_ylim(1e-3, 1.48)
style(ax_c)
ax_c.set_ylabel('Portion outside action', fontsize=FS, fontweight='bold', labelpad=9)
ax_c.legend(loc='upper right', frameon=False, fontsize=15.5, handlelength=2.3)
ax_c.text(0.0, 1.01, '(c)', transform=ax_c.transAxes, fontsize=FS, fontweight='bold', ha='left', va='bottom')

fig.savefig('out.png', dpi=100)
